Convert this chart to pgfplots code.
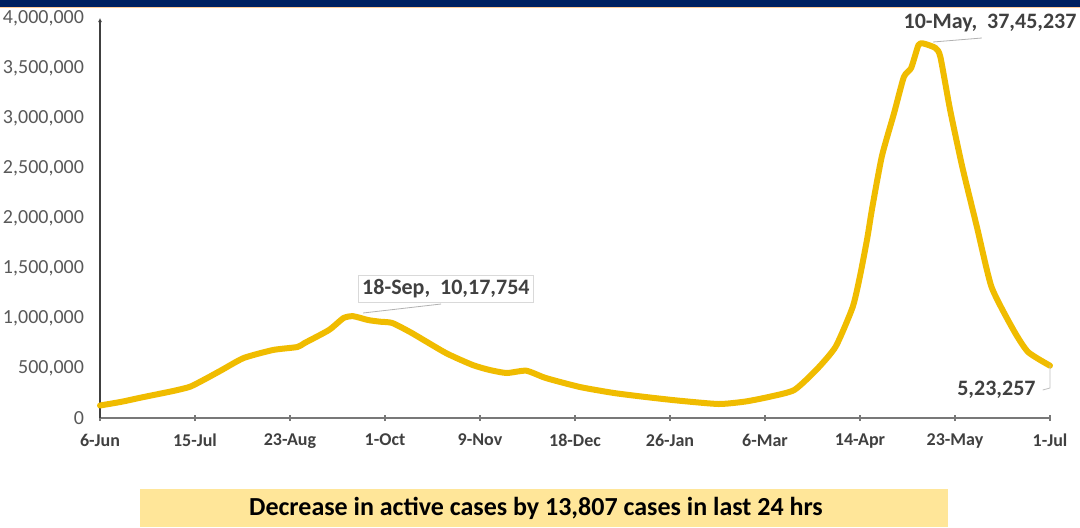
\documentclass[border=0pt]{standalone}
\usepackage{fontspec}
\setmainfont{Carlito}
\usepackage{pgfplots}
\pgfplotsset{compat=1.18}
\usetikzlibrary{arrows.meta}

\definecolor{gold}{RGB}{240,188,0}
\definecolor{navy}{RGB}{0,32,96}
\definecolor{lblgray}{RGB}{64,64,64}
\definecolor{tickgray}{RGB}{89,89,89}
\definecolor{boxyellow}{RGB}{255,230,153}
\definecolor{axgray}{RGB}{120,120,120}

\begin{document}
\begin{tikzpicture}
\path[use as bounding box, fill=white] (0,0) rectangle (540pt,263.5pt);
% top strip
\fill[navy] (0,260pt) rectangle (540pt,263.5pt);
\fill[orange!40] (0,259.5pt) rectangle (540pt,260pt);
% bottom banner
\fill[boxyellow] (70pt,0) rectangle (474pt,19pt);
\node[font=\bfseries\fontsize{13}{15}\selectfont, text=black] at (268pt,9.5pt)
  {Decrease in active cases by 13,807 cases in last 24 hrs};

\begin{axis}[
    at={(50pt,54.5pt)}, anchor=south west,
    scale only axis,
    width=475pt, height=200pt,
    xmin=0, xmax=390,
    ymin=0, ymax=4000000,
    axis lines=left,
    x axis line style={-, axgray, line width=1.2pt},
    y axis line style={-{Latex[length=2pt,width=2pt]}, black!75, line width=0.6pt},
    xtick={0,39,...,390},
    xticklabels={6-Jun,15-Jul,23-Aug,1-Oct,9-Nov,18-Dec,26-Jan,6-Mar,14-Apr,23-May,1-Jul},
    ytick={0,500000,...,4000000},
    scaled ticks=false,
    /pgf/number format/fixed,
    /pgf/number format/1000 sep={,},
    /pgf/number format/assume math mode=true,
    ytick style={draw=none},
    xtick style={axgray, line width=0.6pt},
    tick align=center,
    major tick length=3pt,
    xticklabel style={font=\bfseries\fontsize{9}{10}\selectfont, text=lblgray, yshift=-3pt},
    yticklabel style={font=\fontsize{10}{12}\selectfont, text=tickgray, xshift=-3pt},
    clip=false,
]
\addplot[gold, line width=3pt, line join=round, line cap=round, smooth, tension=0.35] coordinates {
  (0,125000) (9,163000) (16,200000) (23,235000) (30,270000) (37,313000)
  (44,400000) (50,480000) (59,600000) (71,680000) (81,710000) (84,750000)
  (94,880000) (100,1000000) (104,1017754) (110,980000) (115,963000)
  (120,950000) (128,850000) (142,650000) (153,530000) (160,480000)
  (167,450000) (175,473000) (183,400000) (197,310000) (211,250000)
  (224,210000) (237,175000) (254,140000) (265,165000) (275,213000)
  (285,280000) (294,480000) (302,713000) (309,1110000) (312,1420000)
  (315,1800000) (317,2100000) (321,2620000) (326,3050000) (330,3410000)
  (333,3500000) (336,3730000) (338,3745237) (343,3700000) (345,3610000)
  (349,3080000) (354,2510000) (360,1910000) (366,1310000) (375,880000)
  (381,660000) (390,523257)
};

% annotations
\draw[black!30, line width=0.4pt] (axis cs:108,1050000) -- (axis cs:140,1140000);
\node[draw=black!15, fill=white, inner sep=2pt, text=lblgray,
      font=\bfseries\fontsize{11}{13}\selectfont] at (axis cs:142,1290000)
  {18-Sep,\ \ 10,17,754};
\draw[black!30, line width=0.4pt] (axis cs:342,3760000) -- (axis cs:362,3800000);
\node[text=lblgray, font=\bfseries\fontsize{11}{13}\selectfont]
  at (axis cs:365.4,3950000) {10-May,\ \ 37,45,237};
\draw[black!25, line width=0.4pt] (axis cs:390,530000) -- (axis cs:390,300000) -- (axis cs:387,280000);
\node[text=lblgray, font=\bfseries\fontsize{11}{13}\selectfont]
  at (axis cs:368,280000) {5,23,257};
\end{axis}
\end{tikzpicture}
\end{document}
